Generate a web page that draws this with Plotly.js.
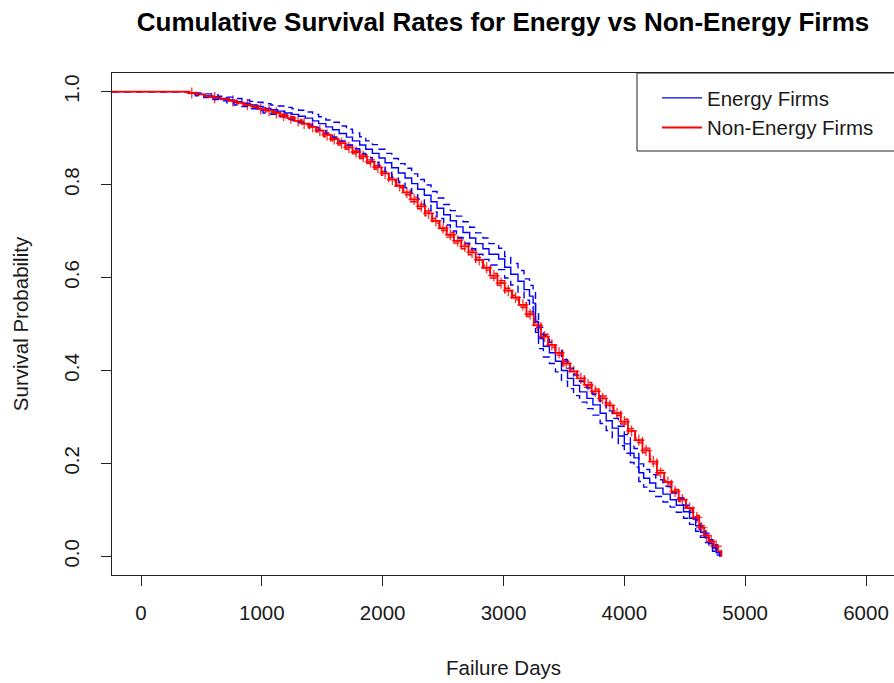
<!DOCTYPE html>
<html>
<head>
<meta charset="utf-8">
<script src="https://cdn.plot.ly/plotly-3.0.1.min.js"></script>
<style>
html, body { margin: 0; padding: 0; overflow: hidden; background: #fff; }
#chart { width: 900px; height: 683px; }
</style>
</head>
<body>
<div id="chart"></div>
<script>
// ---- Energy firms (Kaplan-Meier estimate with 95% CI) ----
const energyDays = [-240, 395, 450, 520, 585, 640, 710, 770, 835, 900, 960, 1010, 1075, 1130, 1190, 1250, 1305, 1360, 1420, 1470, 1530, 1585, 1640, 1700, 1750, 1810, 1860, 1915, 1970, 2020, 2075, 2130, 2185, 2240, 2290, 2345, 2400, 2450, 2505, 2560, 2610, 2665, 2720, 2770, 2830, 2880, 2960, 3010, 3060, 3120, 3170, 3215, 3245, 3265, 3290, 3330, 3380, 3430, 3480, 3530, 3580, 3630, 3690, 3740, 3800, 3850, 3900, 3950, 4000, 4050, 4080, 4120, 4160, 4210, 4260, 4320, 4380, 4430, 4490, 4540, 4590, 4630, 4670, 4700, 4730, 4760, 4790];
const energySurv = [1.000, 0.997, 0.994, 0.991, 0.988, 0.985, 0.982, 0.978, 0.975, 0.971, 0.968, 0.964, 0.961, 0.958, 0.954, 0.951, 0.947, 0.943, 0.937, 0.931, 0.924, 0.918, 0.910, 0.902, 0.894, 0.885, 0.876, 0.867, 0.857, 0.847, 0.836, 0.825, 0.814, 0.802, 0.790, 0.777, 0.763, 0.749, 0.735, 0.722, 0.709, 0.697, 0.685, 0.673, 0.662, 0.650, 0.640, 0.622, 0.607, 0.592, 0.574, 0.560, 0.545, 0.505, 0.470, 0.452, 0.438, 0.420, 0.400, 0.383, 0.368, 0.354, 0.340, 0.326, 0.308, 0.292, 0.276, 0.259, 0.242, 0.222, 0.212, 0.180, 0.168, 0.158, 0.147, 0.134, 0.122, 0.110, 0.096, 0.082, 0.066, 0.052, 0.040, 0.028, 0.018, 0.008, 0.000];
const energyUpper = [1.000, 0.999, 0.997, 0.995, 0.993, 0.990, 0.988, 0.985, 0.982, 0.979, 0.977, 0.974, 0.971, 0.969, 0.966, 0.963, 0.960, 0.956, 0.951, 0.946, 0.939, 0.934, 0.926, 0.919, 0.911, 0.903, 0.894, 0.886, 0.876, 0.867, 0.856, 0.845, 0.835, 0.823, 0.811, 0.799, 0.785, 0.771, 0.757, 0.744, 0.732, 0.720, 0.708, 0.696, 0.685, 0.673, 0.663, 0.645, 0.630, 0.615, 0.597, 0.583, 0.568, 0.528, 0.493, 0.475, 0.461, 0.443, 0.423, 0.405, 0.390, 0.376, 0.362, 0.348, 0.330, 0.313, 0.297, 0.280, 0.262, 0.242, 0.232, 0.199, 0.187, 0.176, 0.165, 0.151, 0.138, 0.125, 0.110, 0.095, 0.078, 0.063, 0.050, 0.036, 0.025, 0.013, 0.000];
const energyLower = [1.000, 0.995, 0.991, 0.987, 0.983, 0.980, 0.976, 0.971, 0.968, 0.963, 0.959, 0.954, 0.951, 0.947, 0.942, 0.939, 0.934, 0.930, 0.923, 0.916, 0.909, 0.902, 0.894, 0.885, 0.877, 0.867, 0.858, 0.848, 0.838, 0.827, 0.816, 0.805, 0.793, 0.781, 0.769, 0.755, 0.741, 0.727, 0.713, 0.700, 0.686, 0.674, 0.662, 0.650, 0.639, 0.627, 0.617, 0.599, 0.584, 0.569, 0.551, 0.537, 0.522, 0.482, 0.447, 0.429, 0.415, 0.397, 0.377, 0.361, 0.346, 0.332, 0.318, 0.304, 0.286, 0.271, 0.255, 0.238, 0.222, 0.202, 0.192, 0.161, 0.149, 0.140, 0.129, 0.117, 0.106, 0.095, 0.082, 0.069, 0.054, 0.041, 0.030, 0.020, 0.011, 0.003, 0.000];

// ---- Non-energy firms (Kaplan-Meier estimate with 95% CI) ----
const nonEnergyDays = [-240, 395, 460, 530, 600, 660, 730, 790, 850, 910, 970, 1030, 1090, 1150, 1210, 1270, 1330, 1390, 1450, 1510, 1570, 1630, 1690, 1750, 1810, 1870, 1930, 1990, 2050, 2110, 2170, 2230, 2290, 2350, 2410, 2470, 2530, 2590, 2650, 2710, 2770, 2830, 2890, 2950, 3010, 3070, 3130, 3190, 3250, 3310, 3370, 3430, 3490, 3550, 3610, 3670, 3730, 3790, 3850, 3910, 3970, 4030, 4090, 4150, 4210, 4270, 4330, 4390, 4450, 4510, 4570, 4620, 4660, 4700, 4740, 4775, 4803];
const nonEnergySurv = [1.000, 0.997, 0.994, 0.990, 0.987, 0.984, 0.980, 0.976, 0.972, 0.968, 0.963, 0.959, 0.954, 0.948, 0.943, 0.937, 0.931, 0.924, 0.916, 0.907, 0.898, 0.889, 0.880, 0.870, 0.860, 0.849, 0.837, 0.824, 0.811, 0.797, 0.783, 0.768, 0.753, 0.738, 0.722, 0.706, 0.692, 0.679, 0.667, 0.654, 0.638, 0.621, 0.604, 0.588, 0.572, 0.557, 0.541, 0.521, 0.497, 0.473, 0.455, 0.438, 0.415, 0.398, 0.383, 0.369, 0.355, 0.340, 0.325, 0.308, 0.290, 0.270, 0.250, 0.228, 0.204, 0.180, 0.160, 0.140, 0.122, 0.104, 0.084, 0.062, 0.045, 0.032, 0.022, 0.011, 0.000];
const nonEnergyUpper = [1.000, 0.998, 0.995, 0.991, 0.989, 0.986, 0.982, 0.978, 0.974, 0.970, 0.966, 0.962, 0.957, 0.951, 0.946, 0.940, 0.934, 0.927, 0.919, 0.911, 0.902, 0.893, 0.884, 0.874, 0.864, 0.853, 0.841, 0.828, 0.815, 0.801, 0.788, 0.773, 0.758, 0.743, 0.727, 0.711, 0.697, 0.684, 0.672, 0.659, 0.643, 0.626, 0.609, 0.593, 0.577, 0.562, 0.546, 0.526, 0.502, 0.478, 0.460, 0.443, 0.420, 0.403, 0.388, 0.374, 0.360, 0.345, 0.330, 0.313, 0.295, 0.275, 0.255, 0.233, 0.209, 0.185, 0.164, 0.144, 0.126, 0.108, 0.088, 0.066, 0.048, 0.035, 0.025, 0.013, 0.000];
const nonEnergyLower = [1.000, 0.996, 0.993, 0.989, 0.985, 0.982, 0.978, 0.974, 0.970, 0.966, 0.960, 0.956, 0.951, 0.945, 0.940, 0.934, 0.928, 0.921, 0.913, 0.903, 0.894, 0.885, 0.876, 0.866, 0.856, 0.845, 0.833, 0.820, 0.807, 0.793, 0.778, 0.763, 0.748, 0.733, 0.717, 0.701, 0.687, 0.674, 0.662, 0.649, 0.633, 0.616, 0.599, 0.583, 0.567, 0.552, 0.536, 0.516, 0.492, 0.468, 0.450, 0.433, 0.410, 0.393, 0.378, 0.364, 0.350, 0.335, 0.320, 0.303, 0.285, 0.265, 0.245, 0.223, 0.199, 0.175, 0.156, 0.136, 0.118, 0.100, 0.080, 0.058, 0.042, 0.029, 0.019, 0.009, 0.000];
// censored observations (marked "+") in the non-energy group
const nonEnergyCensorDays = [420, 610, 760, 880, 990, 1060, 1120, 1180, 1240, 1300, 1350, 1420, 1480, 1540, 1600, 1660, 1720, 1780, 1840, 1900, 1960, 2020, 2080, 2140, 2200, 2260, 2320, 2380, 2440, 2500, 2560, 2620, 2680, 2740, 2800, 2860, 2920, 2980, 3040, 3100, 3160, 3220, 3280, 3340, 3400, 3460, 3520, 3580, 3640, 3700, 3760, 3820, 3880, 3940, 4000, 4060, 4120, 4180, 4240, 4300, 4360, 4420, 4480, 4540, 4600, 4640, 4680, 4720, 4760];

// ---- labels ----
const chartTitle = 'Cumulative Survival Rates for Energy vs Non-Energy Firms';
const xTitle = 'Failure Days';
const yTitle = 'Survival Probability';
const xTicks = [0, 1000, 2000, 3000, 4000, 5000, 6000];
const yTicks = [0, 0.2, 0.4, 0.6, 0.8, 1.0];
const yTickText = ['0.0', '0.2', '0.4', '0.6', '0.8', '1.0'];
const groupNames = ['Energy Firms', 'Non-Energy Firms'];

// step lookup of the KM curve value at a censoring time
function stepValue(days, surv, t) {
  let v = surv[0];
  for (let i = 0; i < days.length; i++) { if (days[i] <= t) v = surv[i]; else break; }
  return v;
}
const censorY = nonEnergyCensorDays.map(t => stepValue(nonEnergyDays, nonEnergySurv, t));

const BLUE = '#0000ff', RED = '#ff0000';
const FONT = 'Liberation Sans, Arial, Helvetica, sans-serif';
const dash = '7px,5px';

const traces = [
  {x: nonEnergyDays, y: nonEnergyUpper, mode: 'lines', line: {color: RED, width: 1.4, dash: dash, shape: 'hv'}, showlegend: false, hoverinfo: 'skip'},
  {x: nonEnergyDays, y: nonEnergyLower, mode: 'lines', line: {color: RED, width: 1.4, dash: dash, shape: 'hv'}, showlegend: false, hoverinfo: 'skip'},
  {x: nonEnergyCensorDays, y: censorY, mode: 'markers', marker: {symbol: 'cross-thin', size: 8, color: RED, line: {color: RED, width: 1.4}}, opacity: 0.75, showlegend: false, hoverinfo: 'skip'},
  {x: energyDays, y: energyUpper, mode: 'lines', line: {color: BLUE, width: 1.4, dash: dash, shape: 'hv'}, showlegend: false, hoverinfo: 'skip'},
  {x: energyDays, y: energyLower, mode: 'lines', line: {color: BLUE, width: 1.4, dash: dash, shape: 'hv'}, showlegend: false, hoverinfo: 'skip'},
  {x: energyDays, y: energySurv, mode: 'lines', name: groupNames[0], line: {color: BLUE, width: 1.4, shape: 'hv'}},
  {x: nonEnergyDays, y: nonEnergySurv, mode: 'lines', name: groupNames[1], line: {color: RED, width: 1.8, shape: 'hv'}}
];

const legendLeft = 0.6705;
const layout = {
  width: 900, height: 683,
  margin: {l: 112, r: 5, t: 73, b: 108, pad: 0},
  paper_bgcolor: '#ffffff', plot_bgcolor: '#ffffff',
  font: {family: FONT, size: 20.5, color: '#1a1a1a'},
  title: {text: '<b>' + chartTitle + '</b>', font: {family: FONT, size: 26, color: '#000'},
          xref: 'container', yref: 'container', x: 503 / 900, xanchor: 'center', y: 1 - 22 / 683, yanchor: 'middle'},
  xaxis: {range: [-240, 6240], tickmode: 'array', tickvals: xTicks, ticks: 'outside', ticklen: 10, tickwidth: 1, tickcolor: '#222',
          showline: true, mirror: true, linecolor: '#222', linewidth: 1, showgrid: false, zeroline: false,
          tickfont: {size: 20.5, color: '#1a1a1a'}, ticklabelstandoff: 9,
          title: {text: xTitle, font: {size: 20.5, color: '#1a1a1a'}, standoff: 38}, automargin: false},
  yaxis: {range: [-0.04, 1.04], tickmode: 'array', tickvals: yTicks, ticktext: yTickText, tickangle: -90,
          ticks: 'outside', ticklen: 10, tickwidth: 1, tickcolor: '#222',
          showline: true, mirror: true, linecolor: '#222', linewidth: 1, showgrid: false, zeroline: false,
          tickfont: {size: 20.5, color: '#1a1a1a'}, ticklabelstandoff: 14,
          title: {text: yTitle, font: {size: 20.5, color: '#1a1a1a'}, standoff: 25}, automargin: false},
  showlegend: true,
  legend: {x: legendLeft + 20 / 783, y: 1 - 5 / 502, xanchor: 'left', yanchor: 'top', bgcolor: 'rgba(0,0,0,0)', borderwidth: 0,
           font: {size: 20.5, color: '#1a1a1a'}, itemwidth: 40, tracegroupgap: 0},
  shapes: [
    {type: 'rect', xref: 'paper', yref: 'paper', x0: legendLeft, x1: 1.0, y0: (575 - 151) / 502, y1: 1,
     line: {color: '#222', width: 1}, fillcolor: 'rgba(0,0,0,0)'}
  ]
};

Plotly.newPlot('chart', traces, layout, {displayModeBar: false, staticPlot: true});
</script>
</body>
</html>
